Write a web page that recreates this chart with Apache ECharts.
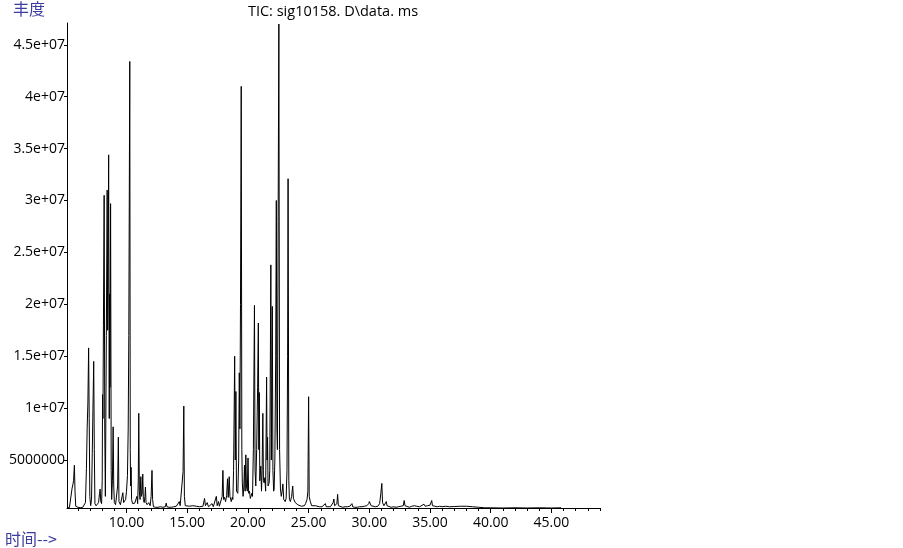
<!DOCTYPE html>
<html>
<head>
<meta charset="utf-8">
<script src="https://cdn.jsdelivr.net/npm/echarts@6/dist/echarts.min.js"></script>
<style>
html,body{margin:0;padding:0;background:#fff;}
#chart{width:903px;height:548px;}
</style>
</head>
<body>
<div id="chart"></div>
<script>
// Retention time (min), abundance (millions of counts)
var segEarly = [
  [5.10,0.40],[5.30,0.42],[5.45,0.50],[5.52,2.3],[5.58,2.6],[5.64,3.0],[5.71,4.5],[5.76,2.0],[5.82,0.55],
  [6.00,0.45],[6.20,0.42],[6.40,0.45],[6.55,0.50],[6.62,0.9],[6.70,4.2],[6.76,8.0],[6.82,10.5],[6.88,15.8],
  [6.93,9.0],[6.98,1.5],[7.05,0.6],[7.12,1.2],[7.18,5.6],[7.24,10.0],[7.30,14.5],[7.35,6.0],[7.40,0.8],
  [7.50,0.6],[7.60,0.7],[7.70,0.9],[7.78,1.8],[7.83,2.2],[7.88,1.0],[7.95,0.8],[8.00,3.0],[8.03,11.3],
  [8.06,9.0],[8.10,18.0],[8.16,30.5],[8.21,8.0],[8.26,1.5],[8.30,9.0],[8.34,17.0],[8.41,31.0],[8.45,17.5],
  [8.48,21.0],[8.53,34.4],[8.58,9.0],[8.61,21.0],[8.64,12.0],[8.69,29.7],[8.74,4.0],[8.78,1.2],[8.84,3.0],
  [8.90,8.2],[8.95,2.5],[9.00,0.9],[9.05,1.0],[9.10,0.7],[9.20,0.8],[9.27,2.5],[9.33,7.2],[9.38,1.0],
  [9.50,0.7],[9.62,0.8],[9.70,1.85],[9.76,0.9],[9.84,0.8],[9.93,1.2]
];
var segMain = [
  [10.00,2.0],[10.08,3.5],[10.14,8.0],[10.19,17.0],[10.27,43.4],[10.31,6.0],[10.34,2.5],[10.38,4.3],
  [10.42,1.2],[10.50,0.8],[10.62,0.9],[10.68,0.85],[10.80,1.0],[10.86,1.5],[10.92,0.8],[10.97,3.0],
  [11.01,9.5],[11.06,2.0],[11.12,1.2],[11.18,3.4],[11.23,1.5],[11.29,1.8],[11.34,3.65],[11.39,1.2],
  [11.46,0.9],[11.52,1.5],[11.56,2.4],[11.61,0.9],[11.70,0.7],[11.83,0.9],[11.95,0.6],[12.03,1.5],
  [12.10,4.0],[12.15,1.2],[12.22,0.5],[12.40,0.45],[12.60,0.45],[12.80,0.5],[13.00,0.45],[13.20,0.5],
  [13.27,0.85],[13.33,0.5],[13.50,0.45],[13.70,0.45],[13.90,0.5],[14.10,0.55],[14.25,0.6],[14.35,1.0],
  [14.42,0.6],[14.58,0.7],[14.66,3.9],[14.72,10.2],[14.77,1.5],[14.84,0.6],[15.00,0.5],[15.20,0.55],
  [15.34,0.6],[15.47,0.6],[15.60,0.45],[15.75,0.55],[15.88,0.5],[16.00,0.5],[16.15,0.6],[16.30,0.55],
  [16.43,1.3],[16.50,0.6],[16.65,0.9],[16.75,0.5],[16.90,0.55],[17.05,0.8],[17.15,0.5],[17.30,0.6],
  [17.40,1.5],[17.47,0.6],[17.58,1.0],[17.65,0.55],[17.78,0.7],[17.88,1.5],[17.94,4.0],[18.00,1.2],
  [18.08,1.4],[18.16,1.0],[18.25,1.6],[18.32,3.2],[18.38,1.4],[18.46,3.4],[18.52,1.5],[18.63,1.0],
  [18.71,1.4]
];
var segCluster = [
  [18.76,1.2],[18.82,4.0],[18.87,10.0],[18.91,15.0],[18.96,5.0],[19.01,11.6],[19.06,2.0],[19.17,1.8],
  [19.24,5.0],[19.29,13.4],[19.34,8.0],[19.39,20.0],[19.45,41.0],[19.50,6.0],[19.54,2.8],[19.60,1.5],
  [19.66,2.3],[19.72,4.5],[19.77,2.0],[19.83,5.5],[19.88,2.5],[19.95,2.0],[20.01,5.2],[20.06,1.8],
  [20.13,2.0],[20.20,1.3],[20.27,1.2],[20.33,1.8],[20.38,1.5],[20.45,6.0],[20.54,19.9],[20.59,4.0],
  [20.65,2.5],[20.72,6.0],[20.80,12.0],[20.86,18.2],[20.90,6.0],[20.94,11.5],[20.98,3.0],[21.06,4.4],
  [21.12,2.0],[21.17,4.0],[21.23,9.5],[21.28,3.0],[21.34,2.8],[21.40,3.3],[21.46,2.0],[21.54,13.0],
  [21.58,5.0],[21.62,7.2],[21.66,2.5],[21.75,2.8],[21.80,4.0],[21.89,23.8],[21.93,5.0],[22.01,19.8],
  [22.06,4.0],[22.12,2.0],[22.16,2.2],[22.22,5.0],[22.29,15.0],[22.34,30.0],[22.39,8.0],[22.43,6.0],
  [22.49,28.0],[22.55,47.0],[22.61,6.0],[22.68,2.2],[22.75,1.5],[22.82,2.0],[22.88,2.7],[22.95,1.2],
  [23.07,1.0],[23.15,1.3],[23.22,4.0],[23.27,15.0],[23.31,32.1],[23.37,3.0],[23.42,1.2],[23.50,1.0],
  [23.60,1.5],[23.69,2.5],[23.75,1.3],[23.83,1.4],[23.90,0.9],[23.97,1.0],[24.10,0.7],[24.24,0.6],
  [24.40,0.55],[24.51,0.5],[24.65,0.6],[24.75,0.8],[24.87,1.2],[24.94,2.0],[25.00,11.1],[25.05,1.5],
  [25.14,1.0]
];
var segLate = [
  [25.25,0.6],[25.40,0.5],[25.55,0.6],[25.70,0.45],[25.90,0.5],[26.10,0.5],[26.25,0.55],[26.38,0.8],
  [26.45,0.5],[26.60,0.45],[26.80,0.5],[26.95,0.6],[27.02,0.9],[27.08,1.25],[27.14,0.6],[27.25,0.5],
  [27.33,0.8],[27.39,1.7],[27.45,0.6],[27.60,0.45],[27.80,0.45],[28.00,0.5],[28.20,0.5],[28.40,0.55],
  [28.52,0.65],[28.57,0.8],[28.63,0.5],[28.80,0.45],[29.00,0.45],[29.20,0.5],[29.40,0.5],[29.60,0.55],
  [29.80,0.6],[29.95,0.8],[30.00,1.0],[30.06,0.9],[30.15,0.6],[30.30,0.55],[30.50,0.5],[30.70,0.55],
  [30.85,0.8],[30.95,1.8],[31.03,2.75],[31.09,0.9],[31.20,0.6],[31.32,0.7],[31.40,1.0],[31.46,0.6],
  [31.60,0.5],[31.80,0.45],[32.00,0.5],[32.20,0.45],[32.40,0.5],[32.60,0.55],[32.80,0.6],[32.87,1.1],
  [32.94,0.6],[33.10,0.5],[33.30,0.45],[33.50,0.55],[33.70,0.6],[33.90,0.55],[34.00,0.6],[34.15,0.5],
  [34.30,0.6],[34.50,0.75],[34.60,0.55],[34.80,0.6],[35.00,0.65],[35.14,1.1],[35.20,0.6],[35.40,0.55],
  [35.60,0.5],[35.80,0.55],[36.00,0.5],[36.30,0.55],[36.60,0.5],[37.00,0.52],[37.50,0.55],[38.00,0.55],
  [38.50,0.5],[39.00,0.45],[39.50,0.4],[40.00,0.4],[41.00,0.38],[42.00,0.4],[43.00,0.38],[44.00,0.4],
  [45.00,0.38],[45.80,0.4]
];
var xMajorTicks = [10, 15, 20, 25, 30, 35, 40, 45];
var xMinorTicks = [6,7,8,9,11,12,13,14,16,17,18,19,21,22,23,24,26,27,28,29,31,32,33,34,36,37,38,39,41,42,43,44,46,47,48,49];
var yTicks = [5, 10, 15, 20, 25, 30, 35, 40, 45];
var titleText = 'TIC: sig10158. D\\data. ms';
var yName = '丰度';
var xName = '时间-->';

var trace = segEarly.concat(segMain, segCluster, segLate);

var chart = echarts.init(document.getElementById('chart'), null, {renderer: 'canvas'});
var labelFont = '"Open Sans", sans-serif';
chart.setOption({
  animation: false,
  backgroundColor: '#ffffff',
  grid: {left: 67, top: 23, right: 303, bottom: 40, containLabel: false},
  xAxis: [{
    type: 'value', min: 5.1, max: 49,
    axisLine: {show: true, onZero: false, lineStyle: {color: '#000', width: 1}},
    axisTick: {show: true, customValues: xMajorTicks, length: 5, lineStyle: {color: '#000'}},
    axisLabel: {show: true, customValues: xMajorTicks, formatter: function (v) { return v.toFixed(2); },
      color: '#000', fontSize: 14, fontFamily: labelFont, margin: 8},
    splitLine: {show: false}
  }, {
    type: 'value', min: 5.1, max: 49, position: 'bottom',
    axisLine: {show: false, onZero: false},
    axisTick: {show: true, customValues: xMinorTicks, length: 3, lineStyle: {color: '#000'}},
    axisLabel: {show: false},
    splitLine: {show: false}
  }],
  yAxis: {
    type: 'value', min: 0.38, max: 47.1,
    axisLine: {show: true, onZero: false, lineStyle: {color: '#000', width: 1}},
    axisTick: {show: true, customValues: yTicks, length: 3, lineStyle: {color: '#000'}},
    axisLabel: {show: true, customValues: yTicks,
      formatter: function (v) { return v === 5 ? '5000000' : (v / 10) + 'e+07'; },
      color: '#000', fontSize: 14, fontFamily: labelFont, margin: 2},
    splitLine: {show: false}
  },
  series: [{
    type: 'line', xAxisIndex: 0, data: trace, showSymbol: false, symbol: 'none',
    lineStyle: {color: '#000', width: 1}, silent: true
  }],
  graphic: [
    {type: 'text', left: 13, top: 1, style: {text: yName, fill: '#3c3ca0', font: '16px "Noto Sans CJK SC", sans-serif'}},
    {type: 'text', left: 5, top: 531, style: {text: xName, fill: '#3c3ca0', font: '16px "Noto Sans CJK SC", sans-serif'}},
    {type: 'text', x: 333, y: 12, style: {text: titleText, fill: '#000', font: '14.5px ' + labelFont, textAlign: 'center', textVerticalAlign: 'middle'}}
  ]
});
</script>
</body>
</html>
